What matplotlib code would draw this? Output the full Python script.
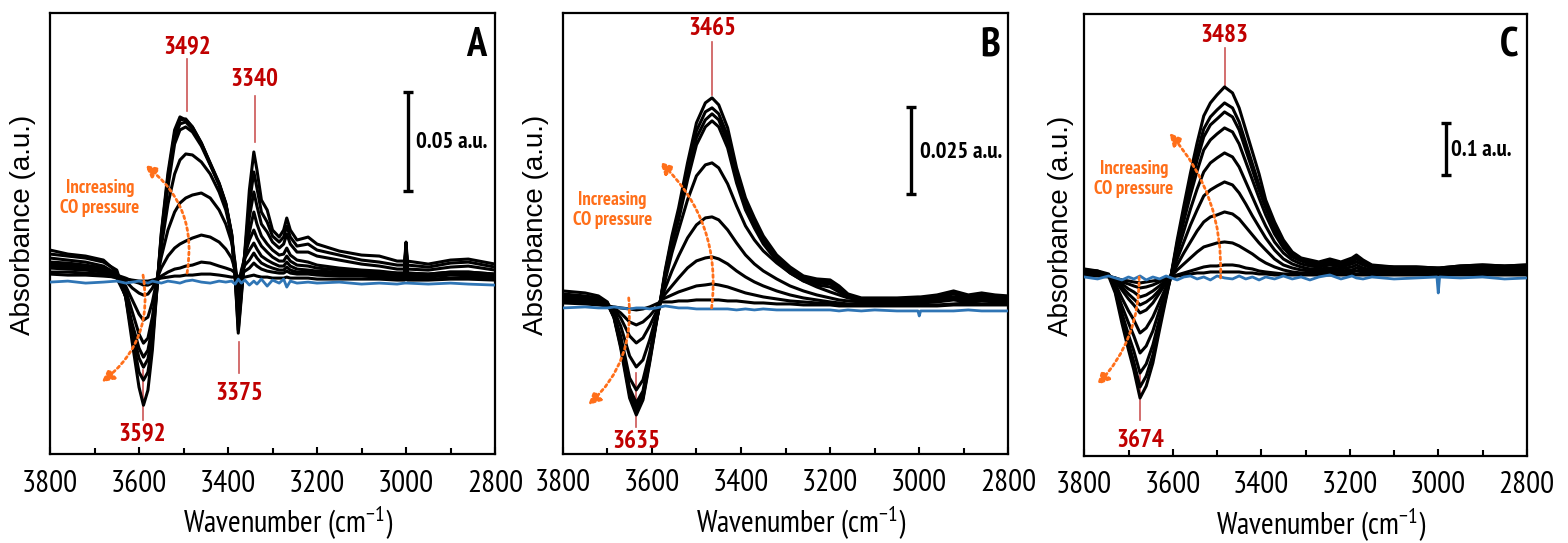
import matplotlib
matplotlib.use("Agg")
import matplotlib.pyplot as plt
from matplotlib import font_manager
from matplotlib.ticker import MultipleLocator


def pick_font(names):
    for n in names:
        try:
            font_manager.findfont(n, fallback_to_default=False)
            return n
        except ValueError:
            pass
    return "DejaVu Sans"


NARROW = pick_font(["PT Sans Narrow", "Roboto Condensed", "Pragati Narrow",
                    "Asap Condensed", "Archivo Narrow", "Liberation Sans"])
REGULAR = pick_font(["Arimo", "Liberation Sans", "DejaVu Sans"])

plt.rcParams["font.family"] = [NARROW, "DejaVu Sans"]
plt.rcParams["mathtext.fontset"] = "custom"
plt.rcParams["mathtext.rm"] = NARROW
plt.rcParams["mathtext.default"] = "regular"

BLACK = "#000000"
BLUE = "#2F75B5"
RED_TXT = "#C00000"
RED_LINE = "#CC5555"
ORANGE = "#FF6F1A"

# === DATA (absorbance in plot units, blue background = 0) ===
# ---- panel A ----
wn_a = [3800, 3760, 3720, 3680, 3650, 3630, 3615, 3600, 3590, 3580,
        3570, 3560, 3550, 3535, 3520, 3508, 3495, 3480, 3460, 3440,
        3420, 3405, 3392, 3384, 3377, 3370, 3362, 3352, 3342, 3335,
        3325, 3312, 3300, 3285, 3275, 3268, 3260, 3245, 3220, 3200,
        3150, 3100, 3060, 3020, 3003, 3000, 2997, 2950, 2900, 2860, 2800]
a_curves = [
    [8, 7, 7, 6, 5, 3, 2, 1, 1, 1, 2, 3, 4, 5, 6, 6, 7, 7, 8, 8,
     7, 6, 5, 5, 4, 5, 5, 6, 7, 6, 5, 5, 4, 4, 4, 5, 4, 4, 4, 3,
     3, 3, 3, 2, 2, 38, 2, 2, 3, 3, 2],
    [14, 13, 12, 10, 7, 4, 1, -1, -3, -3, -1, 2, 6, 10, 13, 14, 16, 17, 20, 19,
     16, 14, 12, 9, 5, 8, 11, 14, 19, 16, 13, 11, 10, 9, 9, 11, 9, 8, 8, 7,
     6, 6, 5, 4, 4, 38, 4, 3, 4, 5, 3],
    [16, 15, 13, 11, 6, 1, -6, -11, -13, -12, -6, 3, 14, 26, 34, 38, 41, 44, 47, 45,
     40, 33, 24, 12, 0, 10, 17, 22, 29, 24, 19, 16, 14, 12, 12, 15, 12, 10, 10, 9,
     8, 8, 7, 6, 6, 38, 6, 5, 7, 7, 5],
    [18, 17, 15, 12, 6, -4, -18, -32, -38, -35, -20, 2, 25, 52, 70, 79, 84, 87, 89, 84,
     72, 58, 40, 18, -8, 12, 24, 32, 39, 33, 26, 22, 19, 16, 16, 20, 16, 13, 12, 11,
     10, 9, 8, 7, 7, 38, 7, 6, 8, 8, 6],
    [20, 19, 17, 14, 7, -8, -30, -52, -61, -56, -35, -2, 35, 78, 108, 122, 128, 127, 120, 108,
     90, 72, 48, 18, -25, 8, 28, 42, 52, 44, 36, 30, 25, 21, 21, 26, 21, 17, 16, 14,
     12, 11, 10, 9, 9, 38, 9, 8, 10, 10, 8],
    [10, 10, 9, 8, 4, -14, -42, -66, -75, -68, -45, -6, 40, 95, 138, 152, 155, 150, 136, 117,
     97, 77, 46, 8, -35, -5, 25, 50, 70, 58, 46, 38, 32, 27, 28, 34, 27, 22, 20, 17,
     14, 12, 11, 9, 9, 38, 9, 8, 10, 10, 8],
    [24, 22, 20, 16, 8, -14, -48, -76, -85, -77, -52, -7, 44, 100, 144, 158, 160, 153, 138, 118,
     98, 78, 47, 7, -41, -9, 28, 65, 90, 76, 58, 50, 40, 34, 38, 48, 38, 30, 30, 26,
     22, 18, 16, 13, 13, 38, 13, 12, 15, 16, 12],
    [32, 28, 26, 22, 10, -15, -54, -90, -98, -90, -60, -8, 47, 105, 148, 162, 163, 155, 139, 118,
     98, 78, 48, 6, -48, -12, 30, 78, 110, 94, 70, 60, 46, 40, 45, 56, 45, 36, 38, 32,
     27, 22, 20, 17, 17, 38, 17, 15, 19, 20, 15],
    [28, 26, 24, 20, 12, -15, -61, -105, -123, -108, -68, -8, 49, 109, 152, 165, 162, 155, 139, 119,
     99, 79, 49, 5, -51, -15, 32, 92, 130, 112, 82, 72, 52, 45, 52, 64, 52, 42, 45, 38,
     31, 27, 26, 21, 21, 40, 21, 18, 22, 23, 18],
]
a_blue = [0, 1, -1, 0, 1, -1, 0, 1, 0, -1, 1, 0, -1, 1, 0, -1, 1, 2, 0, -1,
          1, 0, 1, -2, 3, -1, 2, -3, 1, -2, 3, -4, 2, -1, 3, -5, 1, -1, 0, -1,
          0, -2, -1, -2, -1, -1, -1, -2, -1, -2, -3]

# ---- panel B ----
wn_b = [3800, 3750, 3720, 3700, 3685, 3670, 3650, 3635, 3620, 3605,
        3590, 3580, 3570, 3555, 3540, 3520, 3500, 3480, 3465, 3450,
        3430, 3410, 3390, 3370, 3350, 3320, 3290, 3260, 3230, 3200,
        3180, 3160, 3130, 3100, 3050, 3003, 3000, 2997, 2960, 2923,
        2890, 2860, 2830, 2800]
b_curves = [
    [5, 4, 3, 2, 1, 0, -1, -2, -1, 1, 4, 6, 6, 6, 7, 7, 8, 8, 8, 8,
     7, 7, 6, 5, 5, 4, 4, 3, 3, 3, 2, 2, 2, 2, 2, 2, 2, 2, 2, 3, 3, 3, 3, 3],
    [6, 5, 4, 2, 0, -5, -14, -17, -14, -8, 0, 8, 10, 13, 16, 19, 22, 23, 24, 23,
     21, 18, 15, 13, 11, 9, 7, 6, 5, 4, 3, 3, 3, 3, 3, 3, 3, 3, 3, 4, 5, 4, 4, 4],
    [7, 6, 5, 3, -1, -10, -28, -35, -30, -18, -4, 8, 14, 22, 30, 40, 47, 50, 51, 49,
     44, 37, 31, 26, 22, 17, 13, 10, 8, 6, 5, 4, 4, 4, 4, 5, 5, 5, 6, 8, 6, 7, 6, 5],
    [8, 7, 6, 4, -3, -18, -48, -59, -52, -32, -8, 8, 20, 37, 52, 70, 83, 90, 91, 88,
     78, 65, 53, 44, 37, 29, 22, 17, 13, 10, 8, 7, 6, 5, 5, 6, 6, 6, 7, 9, 7, 8, 7, 6],
    [9, 8, 7, 4, -6, -28, -70, -82, -72, -45, -12, 8, 28, 55, 78, 108, 132, 143, 145, 140,
     124, 102, 82, 68, 57, 45, 35, 27, 21, 16, 13, 10, 8, 7, 7, 8, 8, 8, 9, 11, 9, 10, 9, 8],
    [12, 11, 9, 5, -8, -34, -80, -95, -83, -49, -13, 8, 33, 63, 88, 128, 163, 181, 187, 181,
     160, 125, 98, 80, 64, 47, 35, 27, 23, 21, 16, 11, 7, 6, 6, 6, 6, 6, 8, 11, 8, 10, 8, 7],
    [10, 9, 8, 4, -9, -36, -83, -100, -87, -51, -13, 9, 35, 66, 92, 133, 170, 188, 194, 188,
     166, 130, 102, 83, 66, 49, 37, 29, 25, 24, 18, 12, 8, 8, 8, 8, 8, 8, 10, 14, 10, 12, 10, 9],
    [17, 15, 12, 6, -9, -38, -86, -104, -90, -53, -14, 9, 36, 69, 96, 139, 177, 196, 200, 194,
     172, 134, 105, 86, 69, 51, 39, 31, 27, 26, 20, 13, 9, 9, 9, 10, 10, 10, 12, 16, 12, 14, 12, 11],
    [14, 12, 10, 5, -10, -40, -90, -107, -92, -55, -15, 10, 38, 72, 100, 145, 185, 205, 210, 203,
     180, 140, 110, 90, 72, 53, 41, 32, 29, 28, 22, 14, 10, 10, 10, 11, 11, 11, 13, 17, 13, 15, 13, 12],
]
b_blue = [0, 1, 0, 0, 1, 0, -1, 0, 0, -1, 0, 1, 2, 1, 0, 0, -1, -1, -1, -1,
          -1, -2, -1, -2, -1, -2, -2, -2, -2, -2, -3, -2, -3, -2, -3, -3, -8, -3, -3, -3,
          -2, -3, -3, -3]

# ---- panel C ----
wn_c = [3800, 3770, 3745, 3730, 3715, 3700, 3688, 3674, 3660, 3645,
        3630, 3615, 3603, 3590, 3575, 3560, 3545, 3530, 3515, 3500,
        3483, 3465, 3450, 3435, 3420, 3405, 3390, 3370, 3350, 3330,
        3310, 3290, 3270, 3245, 3220, 3195, 3185, 3170, 3150, 3100,
        3050, 3003, 3000, 2997, 2950, 2900, 2850, 2800]
c_curves = [
    [2, 2, 1, 0, -2, -3, -4, -5, -4, -3, -2, 0, 1, 2, 3, 4, 5, 5, 6, 6,
     6, 6, 6, 5, 5, 4, 4, 3, 3, 3, 3, 3, 3, 3, 3, 3, 3, 3, 3, 3,
     3, 3, 3, 3, 3, 3, 3, 3],
    [3, 3, 2, 0, -4, -6, -8, -10, -9, -7, -4, -1, 1, 3, 5, 7, 9, 11, 12, 12,
     13, 13, 12, 10, 9, 7, 6, 5, 4, 4, 4, 4, 4, 4, 4, 4, 4, 4, 4, 4,
     4, 4, 4, 4, 4, 4, 4, 4],
    [4, 4, 2, -1, -6, -11, -14, -19, -17, -13, -8, -2, 2, 8, 14, 20, 26, 31, 33, 35,
     36, 35, 32, 28, 24, 19, 15, 11, 8, 6, 5, 5, 5, 6, 5, 6, 7, 6, 5, 5,
     5, 5, 5, 5, 5, 6, 5, 5],
    [5, 4, 2, -2, -9, -16, -21, -27, -24, -19, -12, -4, 2, 13, 25, 36, 47, 56, 61, 63,
     66, 64, 59, 51, 43, 35, 28, 19, 13, 10, 8, 7, 7, 8, 7, 8, 10, 8, 7, 6,
     6, 6, 6, 6, 7, 7, 7, 7],
    [5, 5, 3, -3, -12, -21, -27, -35, -32, -25, -15, -5, 3, 19, 36, 53, 68, 82, 88, 92,
     96, 93, 85, 74, 62, 51, 40, 28, 19, 14, 11, 9, 9, 10, 9, 11, 13, 10, 8, 7,
     7, 7, 7, 7, 8, 9, 8, 9],
    [6, 5, 3, -6, -20, -33, -42, -55, -50, -39, -24, -9, 3, 25, 47, 69, 89, 106, 115, 120,
     125, 121, 111, 96, 81, 66, 52, 36, 25, 18, 14, 12, 11, 13, 11, 14, 16, 13, 10, 9,
     9, 8, 8, 8, 10, 11, 10, 11],
    [7, 6, 3, -9, -28, -45, -58, -75, -68, -53, -32, -12, 4, 30, 57, 83, 107, 128, 138, 144,
     150, 146, 134, 116, 98, 80, 63, 44, 30, 21, 17, 14, 13, 15, 13, 16, 19, 15, 11, 10,
     10, 9, 9, 9, 11, 12, 11, 12],
    [8, 6, 3, -11, -35, -57, -73, -95, -86, -67, -41, -16, 4, 33, 63, 91, 118, 141, 153, 159,
     166, 161, 148, 128, 108, 88, 70, 48, 33, 23, 18, 15, 14, 17, 14, 18, 21, 16, 12, 10,
     10, 9, 9, 9, 11, 12, 11, 12],
    [8, 7, 4, -13, -40, -65, -84, -109, -98, -77, -47, -18, 4, 35, 67, 97, 125, 149, 161, 168,
     175, 170, 156, 135, 114, 93, 74, 51, 35, 25, 19, 16, 15, 18, 15, 19, 22, 17, 12, 11,
     11, 10, 10, 10, 12, 13, 12, 13],
    [9, 7, 2, -15, -45, -72, -92, -120, -108, -85, -52, -20, 5, 38, 72, 105, 135, 162, 175, 183,
     191, 185, 170, 148, 126, 104, 78, 56, 38, 26, 20, 18, 16, 19, 16, 20, 23, 18, 13, 11,
     11, 10, 10, 10, 12, 13, 12, 13],
]
c_blue = [1, -1, 2, 0, -2, 1, -1, 2, -2, 1, -1, 2, 0, -2, 1, 2, -1, 1, -2, 2,
          0, -1, 2, -1, 1, -2, 1, -1, 2, -1, 1, -2, 1, 3, -1, 2, 0, -1, 1, -1,
          0, 1, -15, 1, 0, 1, -1, 0]

# peak labels: (wavenumber, text y, line top, line bottom)
a_peaks = [(3492, 235, 223, 171), (3340, 202, 186, 140), (3375, -111, -60, -91), (3592, -151, -88, -138)]
b_peaks = [(3465, 279, 266, 213), (3635, -134, -65, -119)]
c_peaks = [(3483, 242, 230, 191), (3674, -162, -92, -142)]

# layout of the three panels (figure fractions) and y ranges
panels = [
    dict(name="A", wn=wn_a, curves=a_curves, blue=a_blue, peaks=a_peaks,
         rect=[0.0319, 0.1634, 0.2838, 0.8130], ylim=(-172, 269),
         bar_x=2996, bar=(91, 190), bar_text="0.05 a.u.", bar_tx=2978, bar_ty=139,
         arrows=[((3492, 9), (3587, 117), 0.3), ((3591, 7), (3684, -100), -0.3)],
         label_y=84, ylab_x=-0.031),
    dict(name="B", wn=wn_b, curves=b_curves, blue=b_blue, peaks=b_peaks,
         rect=[0.3589, 0.1639, 0.2842, 0.8125], ylim=(-146, 295),
         bar_x=3019, bar=(114, 201), bar_text="0.025 a.u.", bar_tx=2998, bar_ty=155,
         arrows=[((3466, 0), (3582, 146), 0.25), ((3652, 10), (3743, -97), -0.25)],
         label_y=98, ylab_x=-0.031),
    dict(name="C", wn=wn_c, curves=c_curves, blue=c_blue, peaks=c_peaks,
         rect=[0.6915, 0.1602, 0.2822, 0.8142], ylim=(-178, 264),
         bar_x=2983, bar=(103, 155), bar_text="0.1 a.u.", bar_tx=2972, bar_ty=127,
         arrows=[((3492, 0), (3608, 145), 0.2), ((3676, 1), (3771, -107), -0.2)],
         label_y=99, ylab_x=-0.023),
]

fig = plt.figure(figsize=(15.68, 5.43), dpi=100)

for p in panels:
    ax = fig.add_axes(p["rect"])
    for y in p["curves"]:
        ax.plot(p["wn"], y, color=BLACK, lw=2.2, zorder=3)
    ax.plot(p["wn"], p["blue"], color=BLUE, lw=2.0, zorder=4)

    ax.set_xlim(3800, 2800)
    ax.set_ylim(*p["ylim"])
    ax.xaxis.set_major_locator(MultipleLocator(200))
    ax.xaxis.set_minor_locator(MultipleLocator(100))
    ax.set_yticks([])
    ax.tick_params(axis="x", which="major", direction="in", length=5, width=1.5,
                   labelsize=22.5, pad=11)
    ax.tick_params(axis="x", which="minor", direction="in", length=4, width=1.5)
    for s in ax.spines.values():
        s.set_linewidth(1.6)

    ax.set_xlabel("Wavenumber (cm$^{-1}$)", fontsize=22)
    ax.xaxis.set_label_coords(0.535, -0.115)
    ax.set_ylabel("Absorbance (a.u.)", fontsize=20, family=REGULAR)
    ax.yaxis.set_label_coords(p["ylab_x"], 0.52)

    # peak positions
    for wn0, ty, l0, l1 in p["peaks"]:
        ax.plot([wn0, wn0], [l0, l1], color=RED_LINE, lw=1.2, zorder=1)
        ax.text(wn0, ty, str(wn0), color=RED_TXT, fontsize=18, fontweight="bold",
                ha="center", va="center")

    # scale bar
    ax.errorbar(p["bar_x"], (p["bar"][0] + p["bar"][1]) / 2, yerr=(p["bar"][1] - p["bar"][0]) / 2,
                fmt="none", ecolor=BLACK, elinewidth=2.4, capsize=3.5, capthick=2.4)
    ax.text(p["bar_tx"], p["bar_ty"], p["bar_text"], fontsize=16.5, fontweight="bold",
            ha="left", va="center")

    # panel letter
    ax.text(0.981, 0.927, p["name"], transform=ax.transAxes, fontsize=29,
            fontweight="bold", ha="right", va="center")

    # increasing CO pressure arrows
    ax.text(3688, p["label_y"], "Increasing\nCO pressure", color=ORANGE, fontsize=13.5,
            fontweight="bold", ha="center", va="center", linespacing=1.1)
    for start, end, rad in p["arrows"]:
        ax.annotate("", xy=end, xytext=start,
                    arrowprops=dict(arrowstyle="-|>", color=ORANGE, lw=2.0,
                                    linestyle=(0, (1, 1.2)), mutation_scale=18,
                                    shrinkA=0, shrinkB=0,
                                    connectionstyle=f"arc3,rad={rad}"), zorder=5)

fig.savefig("out.png", dpi=100)
